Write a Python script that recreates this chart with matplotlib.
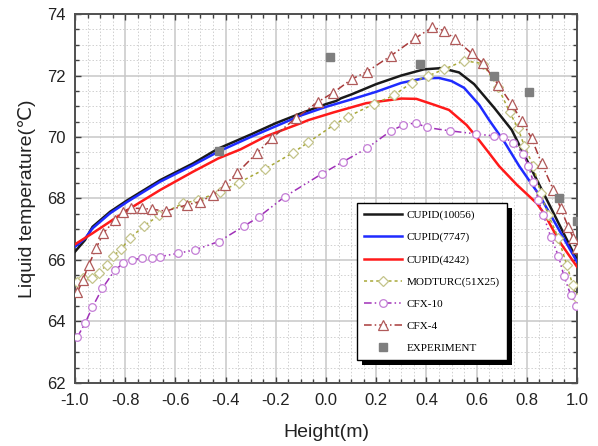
import matplotlib
matplotlib.use('Agg')
import matplotlib.pyplot as plt
from matplotlib.patches import Rectangle
from matplotlib.transforms import IdentityTransform
from matplotlib.ticker import MultipleLocator

# CUPID runs (solid lines)
cupid_10056_x = [-1.0, -0.96, -0.93, -0.86, -0.79, -0.66, -0.53, -0.43, -0.30, -0.20, -0.10, 0.0, 0.04, 0.06,
                 0.10, 0.20, 0.30, 0.39, 0.46, 0.53, 0.59, 0.67, 0.74, 0.80, 0.86, 0.90, 1.0]
cupid_10056_y = [66.27, 66.65, 67.08, 67.57, 67.95, 68.6, 69.14, 69.62, 70.08, 70.45, 70.77, 71.07, 71.17, 71.26,
                 71.38, 71.72, 72.0, 72.2, 72.24, 72.1, 71.72, 70.95, 70.23, 69.25, 68.28, 67.63, 66.0]

cupid_7747_x = [-1.0, -0.96, -0.93, -0.86, -0.79, -0.66, -0.53, -0.43, -0.30, -0.20, -0.10, 0.0, 0.10, 0.20,
                0.30, 0.39, 0.45, 0.50, 0.55, 0.61, 0.65, 0.71, 0.77, 0.85, 0.92, 1.0]
cupid_7747_y = [66.43, 66.7, 67.03, 67.52, 67.9, 68.55, 69.08, 69.52, 70.0, 70.35, 70.7, 70.98, 71.22, 71.47,
                71.76, 71.91, 71.92, 71.82, 71.6, 71.05, 70.55, 69.85, 69.05, 68.11, 67.1, 65.94]

cupid_4242_x = [-1.0, -0.93, -0.86, -0.79, -0.66, -0.53, -0.43, -0.34, -0.24, -0.10, -0.07, 0.03, 0.16, 0.30,
                0.36, 0.43, 0.49, 0.56, 0.60, 0.64, 0.69, 0.76, 0.84, 0.87, 0.93, 1.0]
cupid_4242_y = [66.51, 66.87, 67.25, 67.63, 68.28, 68.87, 69.3, 69.6, 70.02, 70.45, 70.55, 70.8, 71.1, 71.25,
                71.24, 71.05, 70.88, 70.39, 70.0, 69.58, 69.05, 68.45, 67.84, 67.5, 66.6, 65.78]

modturc_x = [-0.993, -0.969, -0.934, -0.903, -0.874, -0.847, -0.817, -0.781, -0.725, -0.664, -0.570, -0.509,
             -0.422, -0.346, -0.243, -0.131, -0.070, 0.031, 0.087, 0.190, 0.270, 0.341, 0.405, 0.472, 0.550,
             0.624, 0.685, 0.732, 0.765, 0.790, 0.826, 0.855, 0.886, 0.926, 0.959, 0.983, 0.998]
modturc_y = [65.30, 65.40, 65.42, 65.59, 65.84, 66.13, 66.35, 66.71, 67.11, 67.46, 67.84, 67.95,
             68.22, 68.52, 68.96, 69.49, 69.83, 70.39, 70.66, 71.07, 71.35, 71.77, 71.98, 72.21, 72.48,
             72.39, 71.63, 70.80, 70.28, 69.71, 69.06, 68.17, 67.46, 66.71, 65.84, 65.19, 64.75]

cfx10_x = [-0.991, -0.960, -0.931, -0.891, -0.841, -0.808, -0.774, -0.734, -0.694, -0.661, -0.588, -0.522,
           -0.427, -0.327, -0.268, -0.164, -0.017, 0.069, 0.162, 0.257, 0.308, 0.357, 0.401, 0.494, 0.599,
           0.670, 0.706, 0.746, 0.786, 0.806, 0.826, 0.846, 0.866, 0.895, 0.926, 0.948, 0.975, 0.996]
cfx10_y = [63.49, 63.94, 64.46, 65.08, 65.67, 65.89, 66.0, 66.06, 66.08, 66.11, 66.22, 66.33,
           66.60, 67.10, 67.40, 68.06, 68.80, 69.20, 69.63, 70.19, 70.39, 70.46, 70.31, 70.20, 70.10,
           70.03, 69.99, 69.82, 69.45, 69.06, 68.55, 67.95, 67.46, 66.76, 66.13, 65.48, 64.86, 64.5]

cfx4_x = [-0.990, -0.969, -0.945, -0.916, -0.887, -0.841, -0.808, -0.777, -0.734, -0.694, -0.639, -0.555,
          -0.502, -0.449, -0.402, -0.353, -0.274, -0.216, -0.121, -0.031, 0.029, 0.102, 0.162, 0.260,
          0.355, 0.424, 0.470, 0.514, 0.580, 0.624, 0.687, 0.740, 0.780, 0.819, 0.859, 0.906, 0.935,
          0.965, 0.985, 0.998]
cfx4_y = [64.95, 65.35, 65.84, 66.38, 66.87, 67.30, 67.57, 67.68, 67.68, 67.65, 67.59, 67.79,
          67.90, 68.11, 68.44, 68.84, 69.49, 69.96, 70.61, 71.15, 71.44, 71.88, 72.12, 72.65,
          73.21, 73.57, 73.46, 73.19, 72.72, 72.40, 71.69, 71.06, 70.52, 69.96, 69.14, 68.28, 67.68,
          67.08, 66.71, 66.38]

exp_x = [-0.426, 0.016, 0.373, 0.668, 0.809, 0.929, 1.0]
exp_y = [69.55, 72.61, 72.36, 71.97, 71.47, 68.0, 67.27]

plt.rcParams['font.family'] = ['Liberation Sans', 'DejaVu Sans']

fig = plt.figure(figsize=(5.98, 4.46), dpi=100)
ax = fig.add_axes([0.1254, 0.1413, 0.8395, 0.8273])

ax.plot(cupid_10056_x, cupid_10056_y, color='#1a1a1a', lw=1.8, label='CUPID(10056)', zorder=3)
ax.plot(cupid_7747_x, cupid_7747_y, color='#1f2bff', lw=1.8, label='CUPID(7747)', zorder=3)
ax.plot(cupid_4242_x, cupid_4242_y, color='#ff1a1a', lw=1.8, label='CUPID(4242)', zorder=3)
ax.plot(modturc_x, modturc_y, color='#a8a838', lw=1.1, ls=(0, (2, 2)), marker='D', ms=4.8,
        mfc='white', mec='#c4c48a', mew=0.9, label='MODTURC(51X25)', zorder=3)
ax.plot(cfx10_x, cfx10_y, color='#a030b8', lw=1.1, ls=(0, (5, 2, 1, 2, 1, 2)), marker='o', ms=5.5,
        mfc='white', mec='#c47ed6', mew=0.9, label='CFX-10', zorder=3)
ax.plot(cfx4_x, cfx4_y, color='#a83a3a', lw=1.1, ls=(0, (5, 2, 1, 2)), marker='^', ms=6.5,
        mfc='white', mec='#b05a5a', mew=0.9, label='CFX-4', zorder=3)
ax.plot(exp_x, exp_y, ls='none', marker='s', ms=5.4, color='#7f7f7f', label='EXPERIMENT', zorder=4)

ax.set_xlim(-1.0, 1.0)
ax.set_ylim(62, 74)
ax.xaxis.set_minor_locator(MultipleLocator(0.05))
ax.yaxis.set_major_locator(MultipleLocator(2))
ax.yaxis.set_minor_locator(MultipleLocator(0.5))
ax.set_xticks([-1.0, -0.8, -0.6, -0.4, -0.2, 0.0, 0.2, 0.4, 0.6, 0.8, 1.0])
ax.set_xticklabels(['-1.0', '-0.8', '-0.6', '-0.4', '-0.2', '0.0', '0.2', '0.4', '0.6', '0.8', '1.0'])

ax.grid(True, which='major', color='#c8c8c8', lw=1.1, ls='-')
ax.grid(True, which='minor', color='#d0d0d0', lw=0.7, ls=(0, (1.5, 2)))
ax.set_axisbelow(True)

ax.tick_params(which='both', direction='in', top=True, right=True, color='#404040', width=1.0)
ax.tick_params(which='major', length=4, labelsize=12, pad=7, labelcolor='#222222')
ax.tick_params(which='minor', length=3)
for s in ax.spines.values():
    s.set_color('#505050')
    s.set_linewidth(1.4)

ax.set_xlabel('Height(m)', fontsize=14, labelpad=12, color='#222222')
ax.set_ylabel('Liquid temperature(\u2103)', fontsize=14, labelpad=8, color='#222222')

leg = ax.legend(loc='upper left', bbox_to_anchor=(0.562, 0.488), borderaxespad=0,
                prop={'family': 'Liberation Serif', 'size': 8}, frameon=True, fancybox=False,
                framealpha=1, edgecolor='black', labelspacing=1.1, handlelength=3.4,
                handletextpad=0.4, borderpad=0.65, numpoints=1)
leg.get_frame().set_linewidth(1.0)
leg.set_zorder(6)

# black drop shadow behind the legend box
fig.canvas.draw()
bb = leg.get_window_extent()
shadow = Rectangle((bb.x0 + 5, bb.y0 - 5), bb.width, bb.height, transform=IdentityTransform(),
                   facecolor='black', edgecolor='none', zorder=5.9, clip_on=False)
ax.add_artist(shadow)

fig.savefig('out.png', dpi=100)
